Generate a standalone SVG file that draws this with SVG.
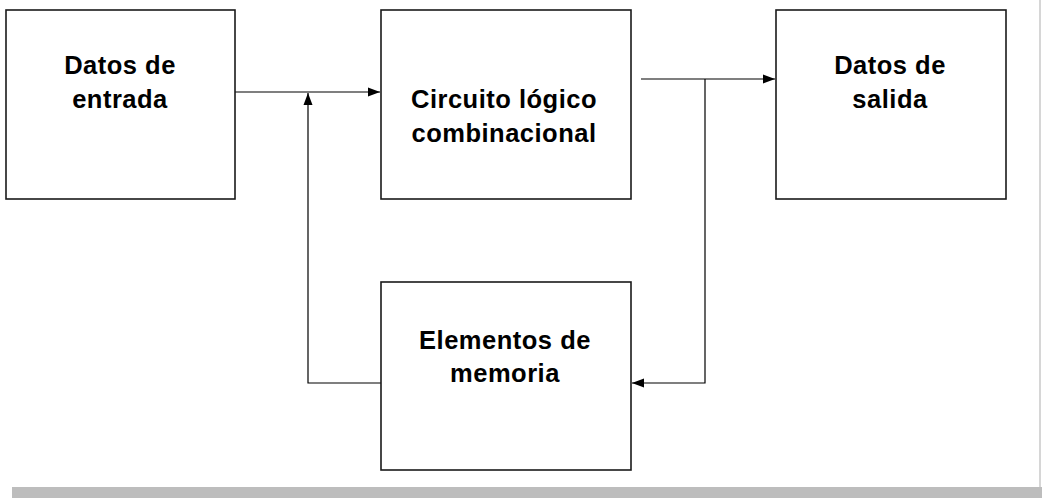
<svg xmlns="http://www.w3.org/2000/svg" width="1042" height="498" viewBox="0 0 1042 498">
<style>
.box{fill:#fff;stroke:#1a1a1a;stroke-width:1.6}
.lbl{font-family:"Liberation Sans",Arial,sans-serif;font-weight:bold;font-size:25.5px;fill:#000;text-anchor:middle;letter-spacing:0.5px}
.ln{fill:none;stroke:#000;stroke-width:1.2}
</style>
<defs>
<marker id="arr" viewBox="0 0 12 10" refX="12" refY="5" markerWidth="12" markerHeight="10" markerUnits="userSpaceOnUse" orient="auto">
<path d="M0,0.5 L12,5 L0,9.5 Z" fill="#000"/>
</marker>
</defs>
<rect x="0" y="0" width="1042" height="498" fill="#fff"/>
<line x1="1040" y1="0" x2="1040" y2="487" stroke="#c8c8c8" stroke-width="1.5"/>
<rect x="12" y="487" width="1030" height="11" fill="#bdbdbd"/>
<g id="connectors">
<line class="ln" x1="235" y1="92" x2="380" y2="92" marker-end="url(#arr)"/>
<polyline class="ln" points="381,383 308,383 308,93" marker-end="url(#arr)"/>
<line class="ln" x1="641" y1="79" x2="775" y2="79" marker-end="url(#arr)"/>
<polyline class="ln" points="705,79 705,383 632,383" marker-end="url(#arr)"/>
</g>
<g id="n1">
<rect class="box" x="6" y="10" width="229" height="189"/>
<text class="lbl" x="120" y="74">Datos de</text>
<text class="lbl" x="120" y="108">entrada</text>
</g>
<g id="n2">
<rect class="box" x="381" y="10" width="250" height="189"/>
<text class="lbl" x="504" y="108">Circuito lógico</text>
<text class="lbl" x="504" y="142">combinacional</text>
</g>
<g id="n3">
<rect class="box" x="776" y="10" width="230" height="189"/>
<text class="lbl" x="890" y="74">Datos de</text>
<text class="lbl" x="890" y="108">salida</text>
</g>
<g id="n4">
<rect class="box" x="381" y="282" width="250" height="188"/>
<text class="lbl" x="505" y="349">Elementos de</text>
<text class="lbl" x="505" y="382">memoria</text>
</g>
</svg>
